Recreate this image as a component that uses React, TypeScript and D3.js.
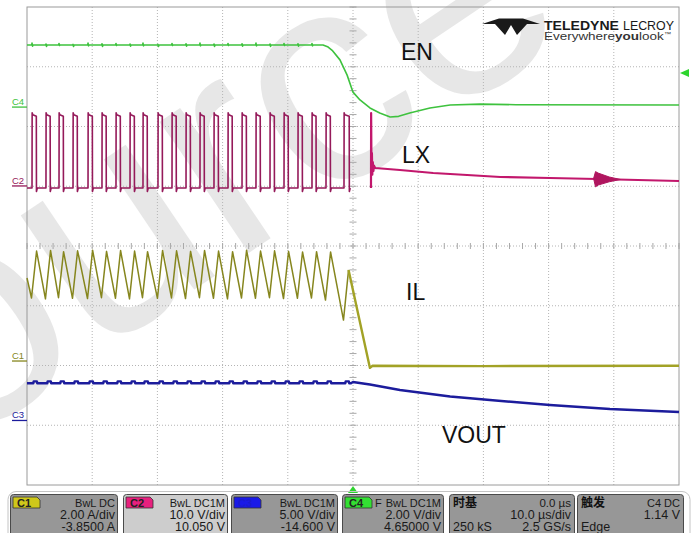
import React from "react";
import * as d3 from "d3";

// ---------------- data ----------------
const timeRange: [number, number] = [-50, 50]; // µs, 10 µs/div
const divRange: [number, number] = [-4, 4];

const channelNames = ["C1", "C2", "C3", "C4"];
const channelCoupling = ["BwL  DC", "BwL  DC1M", "BwL  DC1M", "BwL  DC1M"];
const channelScaleText = ["2.00 A/div", "10.0 V/div", "5.00 V/div", "2.00 V/div"];
const channelOffsetText = ["-3.8500 A", "10.050 V", "-14.600 V", "4.65000 V"];
const channelPerDiv = [2, 10, 5, 2];
const channelOffset = [-3.85, 10.05, -14.6, 4.65];
const channelColors = ["#86861e", "#951a5a", "#1c1c9c", "#3ec23e"];
const badgeColors = ["#cfc81a", "#e8207e", "#1a1ae8", "#33e033"];

const timebaseText = ["时基", "0.0 µs", "10.0 µs/div", "250 kS", "2.5 GS/s"];
const triggerText = ["触发", "C4  DC", "1.14 V", "Edge"];
const triggerLevel = 1.14; // V on C4

const traceLabels = ["EN", "LX", "IL", "VOUT"];
const watermarkText = "Source";

// LX (C2, volts) – switching edges
const lxRiseTimes = [
  -49.23, -47.09, -45.09, -42.94, -40.64, -38.5, -36.35, -34.2, -32.21, -29.91, -27.76, -25.61,
  -23.47, -21.32, -19.17, -17.02, -14.88, -12.73, -10.58, -8.44, -6.29, -4.14, -1.38,
];
const lxHighWidths = [
  0.66, 0.64, 0.66, 0.65, 0.66, 0.64, 0.66, 0.66, 0.65, 0.66, 0.64, 0.66,
  0.65, 0.66, 0.64, 0.66, 0.65, 0.66, 0.64, 0.66, 0.62, 0.66, 0.8,
];
const lxHigh = 11.9;
const lxLow = -0.34;
const lxOvershoot = 0.35;
const lxUndershoot = 0.6;
const lxTail: [number, number][] = [
  [2.76, -0.34], [2.78, 12.2], [2.84, 2.0], [2.9, 5.5], [2.96, 1.9], [3.04, 4.0], [3.12, 2.5],
  [3.22, 3.4], [3.4, 3.0], [7.2, 2.67], [12.3, 2.17], [17.5, 1.83], [22.6, 1.5], [30.2, 1.33],
  [37.4, 1.16], [50, 0.83],
];
const lxRingEnvelope: [number, number][] = [
  [36.9, 1.25], [37.2, 2.4], [37.6, 2.15], [39.3, 1.5], [41.0, 1.08], [39.3, 0.7], [37.6, 0.15], [37.2, -0.15],
];

// IL (C1, amps)
const ilStart: [number, number] = [-50, 2.78];
const ilTroughs = [
  2.11, 2.08, 2.12, 2.1, 2.09, 2.12, 2.1, 2.08, 2.12, 2.1, 2.11, 2.09,
  2.12, 2.1, 2.08, 2.11, 2.1, 2.12, 2.09, 2.1, 2.11, 2.04, 1.37,
];
const ilPeaks = [
  3.68, 3.7, 3.66, 3.69, 3.71, 3.67, 3.7, 3.68, 3.66, 3.7, 3.69, 3.67,
  3.7, 3.68, 3.66, 3.71, 3.68, 3.69, 3.67, 3.65, 3.66, 3.65, 3.05,
];
const ilPeakDelay = 0.7;
const ilTail: [number, number][] = [[2.6, -0.23], [3.0, -0.16], [20, -0.17], [50, -0.16]];

// EN (C4, volts)
const enHigh = 2.08;
const enGlitchUp = [0.06, 0.03, 0.05, 0.02, 0.06, 0.04, 0.05, 0.03, 0.06, 0.02, 0.05, 0.04, 0.06, 0.03, 0.05, 0.04, 0.06, 0.03, 0.05, 0.04, 0.05];
const enGlitchDown = [0.04, 0.05, 0.02, 0.05, 0.03, 0.05, 0.02, 0.04, 0.03, 0.05, 0.02, 0.04, 0.03, 0.05, 0.02, 0.04, 0.03, 0.05, 0.02, 0.04, 0.03];
const enDecay: [number, number][] = [
  [-4.6, 2.08], [-3.9, 2.02], [-3.2, 1.9], [-2.0, 1.58], [-0.9, 1.07], [0, 0.5], [1.07, 0.24],
  [2.6, -0.03], [4.1, -0.2], [5.7, -0.33], [7.0, -0.31], [8.7, -0.2], [11.8, -0.03], [14.9, 0.07],
  [19.5, 0.1], [25, 0.08], [50, 0.07],
];

// VOUT (C3, volts)
const voutFlat = 3.12;
const voutBump = 0.15;
const voutTail: [number, number][] = [
  [-0.3, 3.12], [0.0, 3.22], [0.5, 3.18], [2.6, 3.01], [7.2, 2.55], [14.9, 2.01], [21.0, 1.71],
  [30.2, 1.29], [39.4, 0.96], [50, 0.71],
];

// ---------------- component ----------------
const FONT = "'Liberation Sans', Arial, sans-serif";
const CJK = "'Noto Sans CJK SC', sans-serif";

export default function App() {
  const W = 697;
  const H = 533;
  const plot = { l: 27, r: 679, t: 7, b: 485 };
  const x = d3.scaleLinear().domain(timeRange).range([plot.l, plot.r]);
  const yDiv = d3.scaleLinear().domain(divRange).range([plot.b, plot.t]);
  const yCh = (c: number) => (v: number) => yDiv((v + channelOffset[c]) / channelPerDiv[c]);
  const lineFor = (c: number) =>
    d3
      .line<[number, number]>()
      .x((d) => x(d[0]))
      .y((d) => yCh(c)(d[1]));

  // LX
  const lxPts: [number, number][] = [[timeRange[0], lxLow]];
  lxRiseTimes.forEach((t, i) => {
    const w = lxHighWidths[i];
    lxPts.push(
      [t, lxLow],
      [t + 0.02, lxHigh + lxOvershoot],
      [t + 0.12, lxHigh],
      [t + w, lxHigh - 0.25],
      [t + w + 0.02, lxLow - lxUndershoot],
      [t + w + 0.15, lxLow]
    );
  });
  const lxTailPath = lineFor(1)(lxTail) || "";
  const lxPath = lineFor(1)(lxPts) || "";
  const ringPath = lineFor(1)(lxRingEnvelope) + "Z";

  // IL
  const ilPts: [number, number][] = [ilStart];
  lxRiseTimes.forEach((t, i) => {
    ilPts.push([t - 0.08, ilTroughs[i]], [t + ilPeakDelay, ilPeaks[i]]);
  });
  const ilPath = lineFor(0)(ilPts) || "";
  const ilTailPath = lineFor(0)([ilPts[ilPts.length - 1], ...ilTail]) || "";

  // EN
  const enPts: [number, number][] = [[timeRange[0], enHigh]];
  lxRiseTimes
    .filter((t) => t + 0.2 < enDecay[0][0])
    .forEach((t, i) => {
      enPts.push(
        [t - 0.05, enHigh],
        [t, enHigh + enGlitchUp[i % enGlitchUp.length]],
        [t + 0.08, enHigh - enGlitchDown[i % enGlitchDown.length]],
        [t + 0.16, enHigh]
      );
    });
  enPts.push(...enDecay);
  const enPath = lineFor(3)(enPts) || "";

  // VOUT
  const voutPts: [number, number][] = [[timeRange[0], voutFlat]];
  lxRiseTimes.forEach((t) => {
    voutPts.push([t + 0.2, voutFlat], [t + 0.25, voutFlat + voutBump], [t + 0.75, voutFlat + voutBump], [t + 0.8, voutFlat]);
  });
  voutPts.push(...voutTail);
  const voutPath = lineFor(2)(voutPts) || "";

  // grid
  const vLines = d3.range(timeRange[0] + 10, timeRange[1], 10);
  const hLines = d3.range(divRange[0] + 1, divRange[1], 1);
  const vTicks = d3.range(divRange[0], divRange[1] + 0.001, 0.2);
  const hTicks = d3.range(timeRange[0], timeRange[1] + 0.001, 2);

  const cx = x(0);
  const cy = yDiv(0);

  // info bar layout
  const boxL = [10, 123, 231, 342, 449, 577];
  const boxR = [118, 228, 338, 444, 575, 684];
  const boxTop = 494;
  const boxFill = ["#979797", "#cdcdcd", "#979797", "#979797", "#979797", "#979797"];
  const row1 = 506.5;
  const row2 = 519;
  const row3 = 530.5;
  const txt = "#1a1a1a";

  const trigY = yCh(3)(triggerLevel);

  // channel ground markers (left)
  const markerOrder = [3, 1, 0, 2];

  return (
    <svg
      width={W}
      height={H}
      viewBox={`0 0 ${W} ${H}`}
      style={{ position: "absolute", left: 0, top: 0, background: "#fff" }}
    >
      <rect x={0} y={0} width={W} height={H} fill="#fff" />
      {/* watermark */}
      <text
        transform="translate(-211,563) rotate(-34)"
        fontFamily={FONT}
        fontSize={300}
        fill="#e2e2e2"
        opacity={0.8}
      >
        {watermarkText}
      </text>

      {/* grid */}
      <g>
        {vLines.map((t) => (
          <line key={"v" + t} x1={x(t)} x2={x(t)} y1={plot.t} y2={plot.b} stroke="#b4b4b4" strokeWidth={1} strokeDasharray="1,2" />
        ))}
        {hLines.map((d) => (
          <line key={"h" + d} x1={plot.l} x2={plot.r} y1={yDiv(d)} y2={yDiv(d)} stroke="#b4b4b4" strokeWidth={1} strokeDasharray="1,2" />
        ))}
        {vTicks.map((d, i) => (
          <line key={"vt" + i} x1={cx - 3.5} x2={cx + 3.5} y1={yDiv(d)} y2={yDiv(d)} stroke="#a8a8a8" strokeWidth={1} />
        ))}
        {hTicks.map((t, i) => (
          <line key={"ht" + i} x1={x(t)} x2={x(t)} y1={cy - 3} y2={cy + 3} stroke="#a8a8a8" strokeWidth={1} />
        ))}
        <rect x={plot.l} y={plot.t} width={plot.r - plot.l} height={plot.b - plot.t} fill="none" stroke="#9a9a9a" strokeWidth={1} />
      </g>

      {/* logo */}
      <g>
        <path d="M482,24 L499,18.5 L523,18.5 L540,24 L527,24 L517,35 L511,25 L505,35 L495,24 Z" fill="#1a1a1a" />
        <text x={544} y={30} fontFamily={FONT} fontWeight="bold" fontSize={13.5} fill="#1a1a1a" textLength={75} lengthAdjust="spacingAndGlyphs">
          TELEDYNE
        </text>
        <text x={623} y={30} fontFamily={FONT} fontSize={13} fill="#1a1a1a" textLength={51} lengthAdjust="spacingAndGlyphs">
          LECROY
        </text>
        <text x={544} y={39.5} fontFamily={FONT} fontSize={11} fill="#333" textLength={127} lengthAdjust="spacingAndGlyphs">
          Everywhere<tspan fontWeight="bold">you</tspan>look<tspan fontSize={6} dy={-4}>™</tspan>
        </text>
      </g>

      {/* traces */}
      <path d={enPath} fill="none" stroke={channelColors[3]} strokeWidth={1.6} strokeLinejoin="round" />
      <path d={lxPath} fill="none" stroke={channelColors[1]} strokeWidth={1.6} strokeLinejoin="round" />
      <path d={lxTailPath} fill="none" stroke="#c2176c" strokeWidth={2.2} strokeLinejoin="round" />
      <path d={ringPath} fill="#b0165f" stroke="#b0165f" strokeWidth={1} />
      <path d={ilPath} fill="none" stroke={channelColors[0]} strokeWidth={1.5} strokeLinejoin="round" />
      <path d={ilTailPath} fill="none" stroke="#a2a226" strokeWidth={2.4} strokeLinejoin="round" />
      <path d={voutPath} fill="none" stroke={channelColors[2]} strokeWidth={2.4} strokeLinejoin="round" />

      {/* trace labels */}
      <text x={401} y={60} fontFamily={FONT} fontSize={23} fill="#111">{traceLabels[0]}</text>
      <text x={402} y={163} fontFamily={FONT} fontSize={23} fill="#111">{traceLabels[1]}</text>
      <text x={406} y={300} fontFamily={FONT} fontSize={23} fill="#111">{traceLabels[2]}</text>
      <text x={442} y={443} fontFamily={FONT} fontSize={23} fill="#111">{traceLabels[3]}</text>

      {/* channel ground markers */}
      {markerOrder.map((c) => {
        const yy = yCh(c)(0);
        return (
          <g key={"m" + c}>
            <text x={12} y={yy - 2} fontFamily={FONT} fontSize={9.5} fill={channelColors[c]}>
              {channelNames[c]}
            </text>
            <line x1={12} x2={plot.l} y1={yy} y2={yy} stroke={channelColors[c]} strokeWidth={1.3} />
          </g>
        );
      })}

      {/* trigger markers */}
      <path d={`M${plot.r + 1},${trigY} L${plot.r + 10},${trigY - 4} L${plot.r + 10},${trigY + 4} Z`} fill="#2ed52e" />
      <path d={`M${cx},${plot.b + 1} L${cx - 5},${plot.b + 8} L${cx + 5},${plot.b + 8} Z`} fill="#2ed52e" />

      {/* info bar */}
      <rect x={8} y={491.5} width={682} height={60} rx={8} fill="none" stroke="#c4c4c4" strokeWidth={1} />
      {boxL.map((l, i) => (
        <rect key={"b" + i} x={l + 0.5} y={boxTop + 0.5} width={boxR[i] - l - 1} height={50} rx={3} fill={boxFill[i]} stroke="#4a4a4a" strokeWidth={1} />
      ))}
      {channelNames.map((name, i) => {
        const l = boxL[i];
        const r = boxR[i];
        return (
          <g key={"cb" + i}>
            <path
              d={`M${l + 3},${boxTop + 3} L${l + 27},${boxTop + 3} L${l + 30},${boxTop + 6} L${l + 30},${boxTop + 14} L${l + 3},${boxTop + 14} Z`}
              fill={badgeColors[i]}
              stroke="#333"
              strokeWidth={0.8}
            />
            <text x={l + 7} y={boxTop + 12.5} fontFamily={FONT} fontWeight="bold" fontSize={11} fill={i === 2 ? "#1a1ad0" : "#222"}>
              {name}
            </text>
            {i === 3 && (
              <text x={l + 33} y={row1} fontFamily={FONT} fontSize={11} fill={txt}>F</text>
            )}
            <text x={r - 3} y={row1} textAnchor="end" fontFamily={FONT} fontSize={11} fill={txt}>
              {channelCoupling[i]}
            </text>
            <text x={r - 3} y={row2} textAnchor="end" fontFamily={FONT} fontSize={12.5} fill={txt}>
              {channelScaleText[i]}
            </text>
            <text x={r - 3} y={row3} textAnchor="end" fontFamily={FONT} fontSize={12.5} fill={txt}>
              {channelOffsetText[i]}
            </text>
          </g>
        );
      })}
      {/* timebase */}
      <g>
        <text x={boxL[4] + 4} y={row1} fontFamily={CJK} fontWeight="bold" fontSize={12} fill="#111">{timebaseText[0]}</text>
        <text x={boxR[4] - 4} y={row1} textAnchor="end" fontFamily={FONT} fontSize={11.5} fill={txt}>{timebaseText[1]}</text>
        <text x={boxR[4] - 4} y={row2} textAnchor="end" fontFamily={FONT} fontSize={12.5} fill={txt}>{timebaseText[2]}</text>
        <text x={boxL[4] + 4} y={row3} fontFamily={FONT} fontSize={12.5} fill={txt}>{timebaseText[3]}</text>
        <text x={boxR[4] - 4} y={row3} textAnchor="end" fontFamily={FONT} fontSize={12.5} fill={txt}>{timebaseText[4]}</text>
      </g>
      {/* trigger */}
      <g>
        <text x={boxL[5] + 4} y={row1} fontFamily={CJK} fontWeight="bold" fontSize={12} fill="#111">{triggerText[0]}</text>
        <text x={boxR[5] - 4} y={row1} textAnchor="end" fontFamily={FONT} fontSize={11} fill={txt}>{triggerText[1]}</text>
        <text x={boxR[5] - 4} y={row2} textAnchor="end" fontFamily={FONT} fontSize={12.5} fill={txt}>{triggerText[2]}</text>
        <text x={boxL[5] + 4} y={row3} fontFamily={FONT} fontSize={12.5} fill={txt}>{triggerText[3]}</text>
      </g>
    </svg>
  );
}
